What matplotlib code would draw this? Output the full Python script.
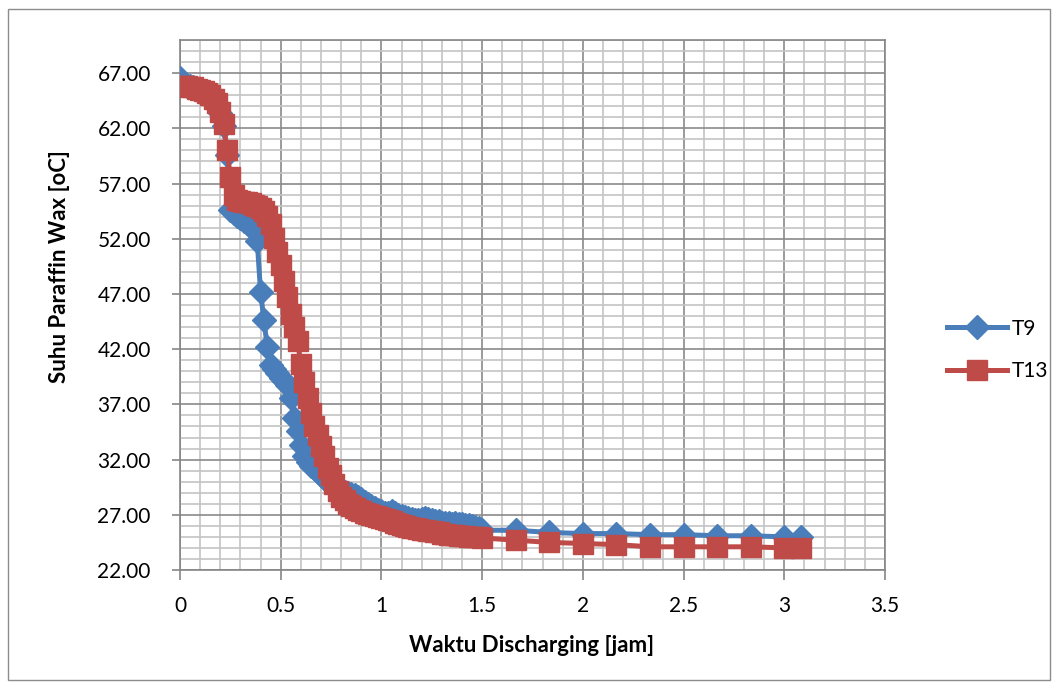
import matplotlib.pyplot as plt
from matplotlib.ticker import MultipleLocator, FormatStrFormatter
from matplotlib.patches import Rectangle
from matplotlib.lines import Line2D

# sampling times in minutes (1 min logging up to 90 min, then every 10 min)
minutes = list(range(0, 91)) + [100, 110, 120, 130, 140, 150, 160, 170, 180, 185]

t9 = [66.6, 65.9, 65.8, 65.8, 65.7, 65.6, 65.5, 65.3, 65.1, 64.9,
      64.6, 64.2, 63.4, 62.2, 59.6, 54.6, 54.3, 54.1, 53.9, 53.6,
      53.4, 53.1, 52.8, 51.8, 47.2, 44.6, 42.2, 40.6, 40.2, 39.8,
      39.4, 39.1, 38.8, 37.6, 35.8, 34.6, 33.3, 32.3, 31.8, 31.4,
      31.2, 30.9, 30.6, 30.3, 30.0, 29.7, 29.5, 29.3, 29.2, 29.1,
      29.0, 28.9, 28.8, 28.6, 28.4, 28.2, 28.0, 27.8, 27.6, 27.4,
      27.3, 27.2, 27.2, 27.3, 27.2, 27.0, 26.9, 26.8, 26.7, 26.6,
      26.5, 26.5, 26.6, 26.7, 26.6, 26.5, 26.4, 26.4, 26.3, 26.3,
      26.3, 26.2, 26.3, 26.2, 26.2, 26.1, 26.1, 26.0, 25.9, 25.8,
      25.6,
      25.6, 25.4, 25.3, 25.3, 25.2, 25.2, 25.1, 25.1, 25.0, 25.0]

t13 = [65.8, 65.8, 65.8, 65.7, 65.7, 65.6, 65.5, 65.4, 65.2, 65.0,
       64.7, 64.3, 63.5, 62.4, 60.0, 57.6, 56.0, 55.5, 55.4, 55.3,
       55.3, 55.2, 55.1, 55.0, 54.8, 54.5, 54.1, 53.3, 52.1, 50.8,
       49.6, 48.2, 46.7, 45.2, 44.0, 42.7, 40.7, 39.0, 37.6, 36.2,
       35.0, 34.2, 33.2, 32.3, 31.2, 30.6, 29.8, 29.2, 28.6, 28.3,
       28.0, 27.8, 27.6, 27.4, 27.3, 27.2, 27.1, 27.0, 26.9, 26.8,
       26.7, 26.6, 26.5, 26.4, 26.3, 26.2, 26.1, 26.0, 25.9, 25.8,
       25.8, 25.7, 25.6, 25.6, 25.5, 25.5, 25.4, 25.4, 25.3, 25.3,
       25.2, 25.2, 25.2, 25.1, 25.1, 25.1, 25.0, 25.0, 25.0, 25.0,
       24.9,
       24.7, 24.5, 24.4, 24.3, 24.1, 24.1, 24.1, 24.1, 24.0, 24.0]

hours = [m / 60 for m in minutes]

blue = "#4A7EBB"
red = "#BE4B48"
font = ["Lato", "DejaVu Sans"]
plt.rcParams["font.family"] = font

fig = plt.figure(figsize=(10.57, 6.87), dpi=100)
ax = fig.add_axes([180 / 1057, 117 / 687, 705 / 1057, 530 / 687])

ax.plot(hours, t9, color=blue, lw=3.6, marker="D", ms=12, mec=blue, mfc=blue, zorder=3)
ax.plot(hours, t13, color=red, lw=3.6, marker="s", ms=14, mec=red, mfc=red, zorder=4)

ax.set_xlim(0, 3.5)
ax.set_ylim(22, 70)
ax.xaxis.set_major_locator(MultipleLocator(0.5))
ax.xaxis.set_minor_locator(MultipleLocator(0.1))
ax.set_yticks([22, 27, 32, 37, 42, 47, 52, 57, 62, 67])
ax.yaxis.set_minor_locator(MultipleLocator(1))
ax.yaxis.set_major_formatter(FormatStrFormatter("%.2f"))
ax.set_xticks([0, 0.5, 1, 1.5, 2, 2.5, 3, 3.5], ["0", "0.5", "1", "1.5", "2", "2.5", "3", "3.5"])

ax.grid(which="major", color="#8a8a8a", lw=1.2, zorder=0)
ax.grid(which="minor", color="#c4c4c4", lw=1.2, zorder=0)
ax.set_axisbelow(True)
ax.tick_params(which="major", direction="out", length=6, width=1.2, color="#868686",
               labelsize=15, pad=15)
ax.tick_params(axis="x", which="major", length=7, pad=12)
ax.tick_params(which="minor", length=0)
for s in ax.spines.values():
    s.set_color("#868686")
    s.set_linewidth(1.2)

fig.text(532 / 1057, 1 - 645 / 687, "Waktu Discharging [jam]", ha="center", va="center",
         fontsize=16, fontweight="bold")
fig.text(60 / 1057, 1 - 267 / 687, "Suhu Paraffin Wax [oC]", ha="center", va="center",
         rotation=90, fontsize=16, fontweight="bold")

handles = [Line2D([], [], color=blue, lw=3.6, marker="D", ms=12),
           Line2D([], [], color=red, lw=3.6, marker="s", ms=14)]
fig.legend(handles, ["T9", "T13"], loc="center left", bbox_to_anchor=(928 / 1057, 1 - 350 / 687),
           frameon=False, fontsize=15, handlelength=2.9, handletextpad=0.2, labelspacing=1.1)

fig.patches.append(Rectangle((8 / 1057, 7 / 687), 1042 / 1057, 671 / 687, transform=fig.transFigure,
                             fill=False, edgecolor="#8c8c8c", lw=1.0))

fig.savefig("out.png", dpi=100)
